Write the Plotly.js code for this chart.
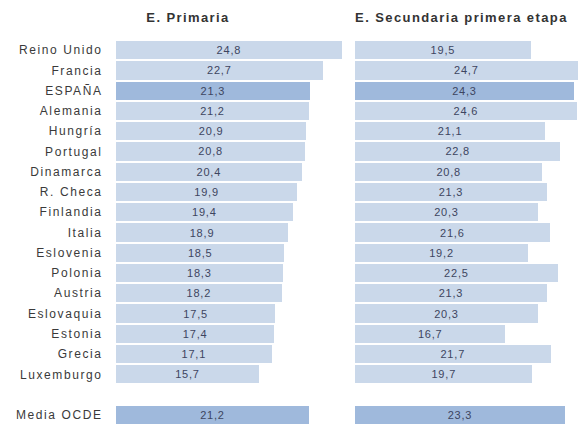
<!DOCTYPE html>
<html>
<head>
<meta charset="utf-8">
<script src="https://cdn.plot.ly/plotly-3.0.1.min.js"></script>
<style>
html,body{margin:0;padding:0;background:#fff;}
#chart{width:585px;height:428px;}
#chart .ytick text{letter-spacing:1.6px;}
#chart text.bartext{letter-spacing:0.8px;}
#chart .annotation-text{letter-spacing:1.4px;}
</style>
</head>
<body>
<div id="chart"></div>
<script>
const countries = ["Reino Unido","Francia","ESPAÑA","Alemania","Hungría","Portugal","Dinamarca","R. Checa","Finlandia","Italia","Eslovenia","Polonia","Austria","Eslovaquia","Estonia","Grecia","Luxemburgo"];
const primaria = [24.8,22.7,21.3,21.2,20.9,20.8,20.4,19.9,19.4,18.9,18.5,18.3,18.2,17.5,17.4,17.1,15.7];
const secundaria = [19.5,24.7,24.3,24.6,21.1,22.8,20.8,21.3,20.3,21.6,19.2,22.5,21.3,20.3,16.7,21.7,19.7];
const mediaLabel = "Media OCDE";
const mediaPrimaria = 21.2;
const mediaSecundaria = 23.3;
const panelTitles = ["E. Primaria","E. Secundaria primera etapa"];

const light = "#cad8ea", dark = "#9fb9dc";
const yPos = countries.map((c,i)=>i);
const mediaY = countries.length + 1;
const colors = countries.map(c => c === "ESPAÑA" ? dark : light);

const txtFont = {family: "Liberation Sans, Arial, sans-serif", size: 11, color: "#3d4560"};
function barTrace(vals, xa, cols, ys) {
  return {
    type: "bar", orientation: "h", x: vals, y: ys, xaxis: xa, yaxis: "y",
    marker: {color: cols, line: {width: 0}}, width: 0.9,
    text: vals.map(v => v.toFixed(1).replace(".", ",")),
    textposition: "inside", insidetextanchor: "middle",
    textfont: txtFont, hoverinfo: "skip", cliponaxis: false
  };
}
const traces = [
  barTrace(primaria, "x", colors, yPos),
  barTrace(secundaria, "x2", colors, yPos),
  barTrace([mediaPrimaria], "x", [dark], [mediaY]),
  barTrace([mediaSecundaria], "x2", [dark], [mediaY])
];
const plotW = 585 - 116;
const span = 227.5 / plotW;
const d2 = (355 - 116) / plotW;
const layout = {
  width: 585, height: 428,
  margin: {l: 116, r: 0, t: 40, b: 3},
  paper_bgcolor: "#fff", plot_bgcolor: "#fff",
  showlegend: false, bargap: 0,
  separators: ", ",
  xaxis: {domain: [0, span], range: [0, 25], showgrid: false, zeroline: false, showticklabels: false, showline: false},
  xaxis2: {domain: [d2, d2 + span * 0.99], range: [0, 25], anchor: "y", showgrid: false, zeroline: false, showticklabels: false, showline: false},
  yaxis: {
    range: [mediaY + 0.5, -0.5], showgrid: false, zeroline: false, showline: false,
    tickmode: "array", tickvals: yPos.concat([mediaY]), ticktext: countries.concat([mediaLabel]),
    ticks: "outside", ticklen: 10, tickcolor: "rgba(0,0,0,0)",
    tickfont: {family: "Liberation Sans, Arial, sans-serif", size: 12, color: "#3a3a3a"}
  },
  annotations: [
    {text: "<b>" + panelTitles[0] + "</b>", xref: "paper", yref: "paper", x: (188 - 116) / plotW, y: 1, yshift: 32, xanchor: "center", showarrow: false,
     font: {family: "Liberation Sans, Arial, sans-serif", size: 13, color: "#333"}},
    {text: "<b>" + panelTitles[1] + "</b>", xref: "paper", yref: "paper", x: (462 - 116) / plotW, y: 1, yshift: 32, xanchor: "center", showarrow: false,
     font: {family: "Liberation Sans, Arial, sans-serif", size: 13, color: "#333"}}
  ]
};
Plotly.newPlot("chart", traces, layout, {staticPlot: true, displayModeBar: false});
</script>
</body>
</html>
